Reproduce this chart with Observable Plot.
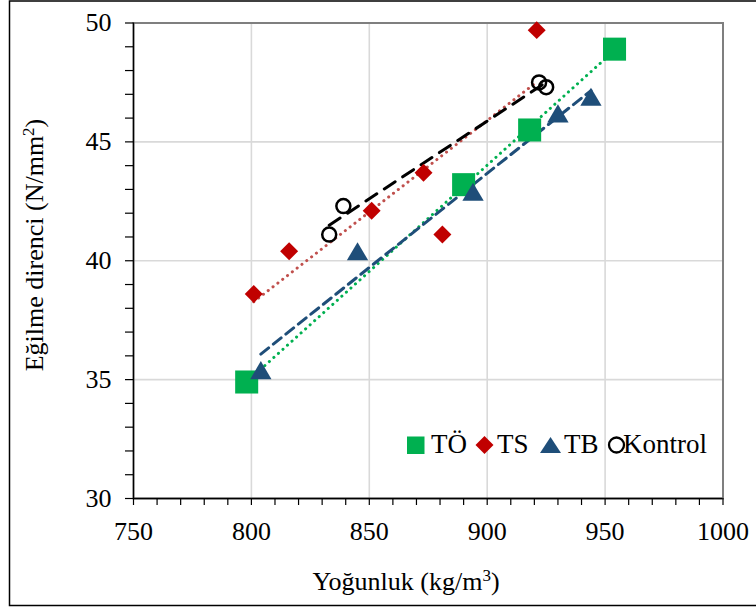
<!DOCTYPE html>
<html>
<head>
<meta charset="utf-8">
<script src="https://cdn.jsdelivr.net/npm/d3@7"></script>
<script src="https://cdn.jsdelivr.net/npm/@observablehq/plot@0.6"></script>
<style>
  html, body { margin: 0; padding: 0; background: #fff; }
  #chart { position: relative; width: 756px; height: 610px; overflow: hidden; }
</style>
</head>
<body>
<div id="chart"></div>
<script>
// Data
const toX = [798, 890, 918, 954];
const toY = [34.9, 43.2, 45.5, 48.9];
const tsX = [801, 816, 851, 873, 881, 921];
const tsY = [38.6, 40.4, 42.1, 43.7, 41.1, 49.7];
const tbX = [804, 845, 894, 930, 944];
const tbY = [35.4, 40.4, 42.9, 46.2, 46.9];
const kX = [833, 839, 922, 925];
const kY = [41.1, 42.3, 47.5, 47.3];

const seriesNames = ["TÖ", "TS", "TB", "Kontrol"];
const xTicks = [750, 800, 850, 900, 950, 1000];
const yTicks = [30, 35, 40, 45, 50];

const mk = (xs, ys) => xs.map((x, i) => ({x, y: ys[i]}));
const TO = mk(toX, toY), TS = mk(tsX, tsY), TB = mk(tbX, tbY), KO = mk(kX, kY);

const GREEN = "#00B050", RED = "#C00000", REDLINE = "#C0504D", BLUE = "#1F4E79", BLACK = "#000";
const FONT = "Liberation Serif, Times New Roman, serif";

const diamond = {
  draw(ctx, size) { const r = Math.sqrt(size) * 0.62625; ctx.moveTo(0, -r); ctx.lineTo(r, 0); ctx.lineTo(0, r); ctx.lineTo(-r, 0); ctx.closePath(); }
};
const tri = {
  draw(ctx, size) { const s = Math.sqrt(size / 0.4); const h = s * 0.85; ctx.moveTo(0, -h/2); ctx.lineTo(s/2, h/2); ctx.lineTo(-s/2, h/2); ctx.closePath(); }
};

const plot = Plot.plot({
  width: 756,
  height: 610,
  marginLeft: 133,
  marginRight: 33.5,
  marginTop: 22.5,
  marginBottom: 112,
  style: {fontFamily: FONT, fontSize: "26px", color: "#000", background: "transparent"},
  x: {domain: [750, 1000]},
  y: {domain: [30, 50]},
  marks: [
    Plot.ruleX(xTicks.slice(1, -1), {stroke: "#D9D9D9", strokeWidth: 1.6}),
    Plot.ruleY(yTicks.slice(1, -1), {stroke: "#D9D9D9", strokeWidth: 1.6}),
    Plot.frame({stroke: "#7F7F7F", strokeWidth: 2}),
    Plot.axisY({ticks: d3.range(30, 51, 1), tickSize: 8, tickFormat: () => "", label: null, stroke: "#000", strokeWidth: 1.2}),
    Plot.axisY({ticks: yTicks, tickSize: 0, tickPadding: 22, tickFormat: d3.format("d"), label: null, fontSize: 26}),
    Plot.axisX({ticks: d3.range(750, 1001, 10), tickSize: 7, tickFormat: () => "", label: null, stroke: "#000", strokeWidth: 1.2}),
    Plot.axisX({ticks: xTicks, tickSize: 0, tickPadding: 23, tickFormat: d3.format("d"), label: null, fontSize: 26}),
    Plot.ruleX([750], {stroke: "#000", strokeWidth: 1.3}),
    Plot.ruleY([30], {stroke: "#000", strokeWidth: 1.3}),
    Plot.linearRegressionY(TO, {x: "x", y: "y", ci: 0, stroke: GREEN, strokeWidth: 3, strokeDasharray: "0.1 6", strokeLinecap: "round"}),
    Plot.linearRegressionY(TS, {x: "x", y: "y", ci: 0, stroke: REDLINE, strokeWidth: 3, strokeDasharray: "0.1 6", strokeLinecap: "round"}),
    Plot.linearRegressionY(TB, {x: "x", y: "y", ci: 0, stroke: BLUE, strokeWidth: 3, strokeDasharray: "10 6"}),
    Plot.linearRegressionY(KO, {x: "x", y: "y", ci: 0, stroke: BLACK, strokeWidth: 3, strokeDasharray: "13 9"}),
    Plot.dot(TO, {x: "x", y: "y", symbol: "square", r: 13, fill: GREEN}),
    Plot.dot(TS, {x: "x", y: "y", symbol: diamond, r: 8.1, fill: RED}),
    Plot.dot(TB, {x: "x", y: "y", symbol: tri, r: 7.6, fill: BLUE}),
    Plot.dot(KO, {x: "x", y: "y", r: 7, fill: "none", stroke: BLACK, strokeWidth: 2.5})
  ]
});

document.getElementById("chart").appendChild(plot);

const svg = d3.select(plot);
svg.attr("font-family", FONT);
// outer chart border
svg.append("rect").attr("x", 9.5).attr("y", 1).attr("width", 760).attr("height", 604.5)
  .attr("fill", "none").attr("stroke", "#000").attr("stroke-width", 1.5);

// axis titles
svg.append("text").attr("x", 406).attr("y", 590).attr("text-anchor", "middle")
  .attr("font-size", 26).attr("fill", "#000")
  .html("Yoğunluk (kg/m<tspan baseline-shift='super' font-size='17'>3</tspan>)");
svg.append("text").attr("transform", "translate(43,245) rotate(-90)").attr("text-anchor", "middle")
  .attr("font-size", 26).attr("fill", "#000")
  .html("Eğilme direnci (N/mm<tspan baseline-shift='super' font-size='17'>2</tspan>)");

// legend
const lg = svg.append("g").attr("font-size", 27).attr("fill", "#000").attr("text-anchor", "start");
const ly = 445;
const lb = 452.5;
lg.append("rect").attr("x", 407).attr("y", ly - 8.5).attr("width", 17.5).attr("height", 17.5).attr("fill", GREEN);
lg.append("text").attr("x", 431).attr("y", lb).text(seriesNames[0]);
lg.append("path").attr("d", `M484.5,${ly-9} L493.5,${ly} L484.5,${ly+9} L475.5,${ly} Z`).attr("fill", RED);
lg.append("text").attr("x", 497).attr("y", lb).text(seriesNames[1]);
lg.append("path").attr("d", `M550.5,${ly-8} L561,${ly+8} L540,${ly+8} Z`).attr("fill", BLUE);
lg.append("text").attr("x", 564).attr("y", lb).text(seriesNames[2]);
lg.append("circle").attr("cx", 616.5).attr("cy", ly).attr("r", 7.5).attr("fill", "none").attr("stroke", "#000").attr("stroke-width", 2.3);
lg.append("text").attr("x", 623).attr("y", lb).text(seriesNames[3]);

// force serif font on every text element
svg.selectAll("g").attr("font-family", FONT);
svg.selectAll("text").attr("font-family", FONT).style("font-family", FONT);
</script>
</body>
</html>
